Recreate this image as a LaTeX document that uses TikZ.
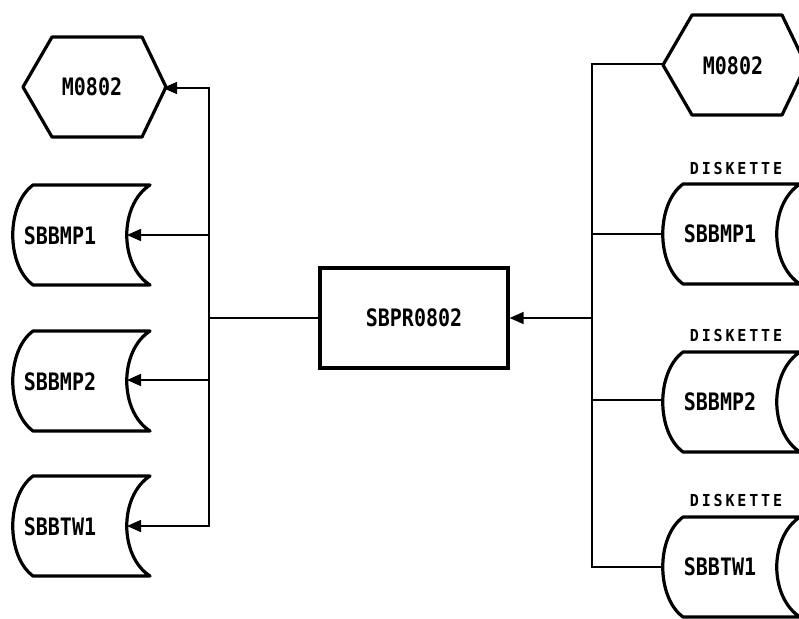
\documentclass[tikz,border=0pt]{standalone}
\usepackage{fontspec}
\usetikzlibrary{arrows.meta}
\newfontfamily\lbl{DejaVu Sans Mono Bold}
\newfontfamily\dsk[LetterSpace=19]{DejaVu Sans Mono Bold}
\newcommand\lbtxt[1]{\scalebox{1}[1.2]{\fontsize{20}{22}\lbl #1}}
\newcommand\dktxt{\scalebox{1}[1.1]{\fontsize{15}{16}\dsk DISKETTE}}
\newcommand\drawstore[2]{%
  \draw[shp] (#1+20,#2-50) -- (#1+137,#2-50)
    .. controls (#1+106,#2-30) and (#1+106,#2+30) .. (#1+137,#2+50)
    -- (#1+20,#2+50)
    .. controls (#1-7,#2+30) and (#1-7,#2-30) .. (#1+20,#2-50) -- cycle;}
\newcommand\drawhex[2]{%
  \draw[shp] (#1,#2) -- (#1+29,#2-50) -- (#1+119,#2-50) -- (#1+143,#2)
    -- (#1+119,#2+50) -- (#1+29,#2+50) -- cycle;}
\begin{document}
\begin{tikzpicture}[x=1pt,y=-1pt,
  shp/.style={line width=3.2pt,line join=round},
  conn/.style={line width=1.6pt},
  arr/.style={conn,-{Triangle[length=14pt,width=12pt]}},
  txt/.style={inner sep=0pt,font=\lbl}]
\useasboundingbox (0,0) rectangle (799,618);
\fill[white] (0,0) rectangle (799,618);
% centre box
\node[draw,line width=3.2pt,minimum width=188pt,minimum height=100pt,inner sep=0pt] (box) at (414,318) {\lbtxt{SBPR0802}};
% left column
\drawhex{23}{87}
\node[txt] (lhex) at (92,87) {\lbtxt{M0802}};
\drawstore{13}{235}
\node[txt] (ls1) at (60,236) {\lbtxt{SBBMP1}};
\drawstore{13}{381}
\node[txt] (ls2) at (60,382) {\lbtxt{SBBMP2}};
\drawstore{13}{526}
\node[txt] (ls3) at (60,527) {\lbtxt{SBBTW1}};
\coordinate (lhexin) at (163,88);
\coordinate (ls1in) at (127,235);
\coordinate (ls2in) at (127,380);
\coordinate (ls3in) at (127,526);
\coordinate (lv) at (209,318);
\draw[conn] (box.west) -- (lv);
\draw[arr] (lv) |- (lhexin);
\draw[arr] (lv) |- (ls1in);
\draw[arr] (lv) |- (ls2in);
\draw[arr] (lv) |- (ls3in);
% right column
\drawhex{663}{65}
\node[txt] (rhex) at (733,66) {\lbtxt{M0802}};
\drawstore{663}{234}
\node[txt] (rs1) at (720,234) {\lbtxt{SBBMP1}};
\node[txt] (rd1) at (736,168) {\dktxt};
\drawstore{663}{402}
\node[txt] (rs2) at (720,402) {\lbtxt{SBBMP2}};
\node[txt] (rd2) at (736,335) {\dktxt};
\drawstore{663}{567}
\node[txt] (rs3) at (720,567) {\lbtxt{SBBTW1}};
\node[txt] (rd3) at (736,500) {\dktxt};
\coordinate (rhexin) at (663,64);
\coordinate (rs1in) at (663,234);
\coordinate (rs2in) at (663,400);
\coordinate (rs3in) at (663,567);
\coordinate (rv) at (592,318);
\draw[arr] (rv) -- (box.east);
\draw[conn] (rv) |- (rhexin);
\draw[conn] (rv) |- (rs1in);
\draw[conn] (rv) |- (rs2in);
\draw[conn] (rv) |- (rs3in);
\end{tikzpicture}
\end{document}
